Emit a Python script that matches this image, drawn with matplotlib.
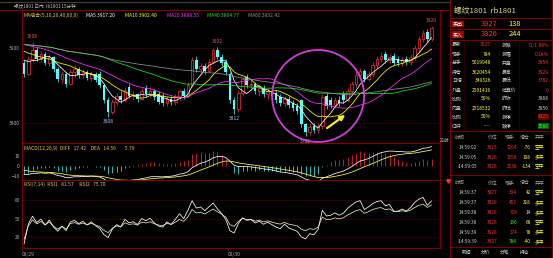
import numpy as np
import pandas as pd
import matplotlib
matplotlib.use("Agg")
import matplotlib.pyplot as plt
from matplotlib.patches import Ellipse

plt.rcParams['font.family'] = ['Noto Sans CJK SC', 'DejaVu Sans']

W, H = 553, 258

# closes before the first visible bar, only used to warm up MA / MACD / RSI
pre_close = [3912, 3915, 3918, 3914, 3910, 3916, 3920, 3917, 3912, 3908,
             3905, 3910, 3914, 3909, 3904, 3900, 3896, 3890, 3886, 3882]

# visible bars
opens = [3880, 3866, 3885, 3898, 3886, 3892, 3880, 3888, 3872, 3858,
         3866, 3852, 3868, 3872, 3864, 3868, 3860, 3865, 3866, 3850,
         3830, 3815, 3828, 3836, 3830, 3848, 3836, 3838, 3832, 3846,
         3838, 3842, 3838, 3836, 3826, 3832, 3828, 3834, 3842, 3836,
         3850, 3884, 3872, 3876, 3870, 3882, 3898, 3888, 3882, 3866,
         3830, 3818, 3840, 3862, 3850, 3852, 3842, 3846, 3838, 3842,
         3840, 3834, 3826, 3832, 3826, 3822, 3830, 3798, 3788, 3796,
         3790, 3796, 3836, 3830, 3824, 3830, 3838, 3830, 3842, 3852,
         3864, 3870, 3858, 3866, 3878, 3886, 3892, 3884, 3890, 3886,
         3880, 3886, 3882, 3888, 3900, 3912, 3922, 3912]
highs = [3884, 3890, 3908, 3902, 3896, 3895, 3892, 3890, 3875, 3870,
         3868, 3872, 3878, 3875, 3872, 3871, 3869, 3868, 3869, 3852,
         3834, 3832, 3840, 3842, 3848, 3852, 3842, 3840, 3846, 3850,
         3848, 3845, 3842, 3840, 3836, 3836, 3838, 3845, 3846, 3854,
         3888, 3890, 3880, 3880, 3886, 3900, 3902, 3892, 3885, 3868,
         3834, 3844, 3862, 3866, 3858, 3855, 3850, 3850, 3846, 3846,
         3844, 3838, 3836, 3836, 3830, 3826, 3832, 3800, 3798, 3800,
         3800, 3838, 3840, 3834, 3834, 3836, 3842, 3846, 3856, 3868,
         3874, 3872, 3870, 3882, 3890, 3895, 3896, 3892, 3894, 3890,
         3888, 3890, 3892, 3904, 3916, 3924, 3926, 3929]
lows = [3862, 3864, 3882, 3883, 3882, 3877, 3876, 3868, 3855, 3853,
        3848, 3850, 3862, 3860, 3860, 3857, 3856, 3854, 3846, 3827,
        3808, 3812, 3824, 3826, 3828, 3833, 3830, 3828, 3830, 3834,
        3835, 3830, 3825, 3822, 3822, 3824, 3824, 3830, 3832, 3834,
        3848, 3868, 3866, 3866, 3868, 3880, 3885, 3876, 3864, 3826,
        3812, 3815, 3836, 3846, 3844, 3838, 3836, 3834, 3832, 3832,
        3826, 3822, 3822, 3820, 3816, 3812, 3794, 3782, 3784, 3786,
        3786, 3792, 3818, 3820, 3820, 3822, 3826, 3828, 3838, 3848,
        3860, 3854, 3856, 3862, 3874, 3882, 3880, 3880, 3878, 3876,
        3876, 3878, 3878, 3884, 3896, 3908, 3908, 3910]
closes = [3866, 3885, 3898, 3886, 3892, 3880, 3888, 3872, 3858, 3866,
          3852, 3868, 3872, 3864, 3868, 3860, 3865, 3857, 3850, 3830,
          3815, 3828, 3836, 3830, 3844, 3836, 3838, 3832, 3842, 3838,
          3842, 3834, 3828, 3826, 3832, 3828, 3834, 3842, 3836, 3850,
          3884, 3872, 3876, 3870, 3882, 3897, 3888, 3880, 3868, 3830,
          3818, 3840, 3858, 3850, 3852, 3842, 3846, 3838, 3842, 3836,
          3830, 3826, 3832, 3824, 3820, 3816, 3798, 3788, 3794, 3790,
          3796, 3834, 3822, 3824, 3830, 3826, 3830, 3842, 3852, 3864,
          3870, 3858, 3866, 3878, 3886, 3890, 3884, 3888, 3880, 3880,
          3884, 3882, 3888, 3900, 3912, 3920, 3912, 3927]

ma_periods = [5, 10, 20, 40, 60]
ma_colors = ['#ffffff', '#ffff00', '#ff30ff', '#20e020', '#909090']

# marked extremes: (bar index, price, is_high)
extremes = [(2, 3908, True), (46, 3902, True), (97, 3929, True),
            (20, 3808, False), (50, 3812, False), (67, 3782, False)]

day_start = [0, 49]
day_labels = ['08/29', '08/30']

quote_rows = [("最新", "3927", "涨跌", "71/1.84%"),
              ("现手", "784", "涨幅", "0.18%"),
              ("总手", "5019948", "开盘", "3854"),
              ("持仓", "3620454", "最高", "3929"),
              ("日增", "349326", "最低", "3782"),
              ("外盘", "2501416", "结算价", "0"),
              ("比例", "50%", "昨收", "3868"),
              ("内盘", "2518532", "昨结", "3856"),
              ("比例", "50%", "涨停", "4125"),
              ("红杆", "----", "跌停", "3586")]
quote_val_colors = ['#ff3030'] + ['#ffff40'] * 8 + ['#d0d0d0']
quote_val2_colors = ['#ff3030'] * 6 + ['#d0d0d0', '#d0d0d0', '#ff3030', '#30ff30']

ticks_a = [("14:59:02", "3925", "1264", "-76", "空平"),
           ("14:59:05", "3926", "1558", "198", "多开"),
           ("›14:59:05", "3928", "2538", "-134", "空平")]
ticks_b = [("14:59:37", "3927", "334", "42", "空平"),
           ("14:59:37", "3928", "452", "318", "多开"),
           ("14:59:38", "3928", "718", "14", "多开"),
           ("14:59:38", "3928", "136", "68", "空开"),
           ("14:59:39", "3928", "174", "78", "多开"),
           ("›14:59:39", "3927", "784", "-40", "多平")]
ticks_b_vol_colors = ['#ff3030', '#ff3030', '#ff3030', '#30ff30', '#ff3030', '#30ff30']

# ---- indicators
full = pd.Series(pre_close + closes, dtype=float)
n0 = len(pre_close)
mas = [full.rolling(p, min_periods=1).mean().values[n0:] for p in ma_periods]

ema12 = full.ewm(span=12, adjust=False).mean()
ema26 = full.ewm(span=26, adjust=False).mean()
diff = ema12 - ema26
dea = diff.ewm(span=9, adjust=False).mean()
hist = 2 * (diff - dea)
diff, dea, hist = diff.values[n0:], dea.values[n0:], hist.values[n0:]

d = full.diff().fillna(0)
def rsi(n):
    up = d.clip(lower=0).ewm(alpha=1 / n, adjust=False).mean()
    dn = d.abs().ewm(alpha=1 / n, adjust=False).mean()
    return (100 * up / dn.replace(0, np.nan)).fillna(50).values[n0:]
rsi1, rsi2 = rsi(7), rsi(14)

x = np.arange(len(closes))

# ---- figure
BG = 'black'
FR = '#7a0000'
TXT = '#b0b0b0'
fig = plt.figure(figsize=(W / 100, H / 100), dpi=100, facecolor=BG)

def box(x0, y0, x1, y1):
    return [x0 / W, 1 - y1 / H, (x1 - x0) / W, (y1 - y0) / H]

ax = fig.add_axes(box(22, 10, 440, 143))
axm = fig.add_axes(box(22, 143, 440, 180))
axr = fig.add_axes(box(22, 180, 440, 248))
xmax = -0.5 + 418 / 4.2
for a in (ax, axm, axr):
    a.set_facecolor(BG)
    a.set_xlim(-0.5, xmax)
    for s in a.spines.values():
        s.set_color(FR)
        s.set_linewidth(0.8)
    a.tick_params(axis='y', length=0, labelsize=3.5, labelcolor=TXT, pad=1.5)
    a.tick_params(axis='x', length=0, labelbottom=False)

# candles
ax.set_ylim(3773.3, 3950.7)
for i in x:
    o, h, l, c = opens[i], highs[i], lows[i], closes[i]
    if c >= o:
        ax.vlines(i, l, o, color='#ff3232', lw=0.5)
        ax.vlines(i, c, h, color='#ff3232', lw=0.5)
        ax.bar(i, max(c - o, 0.8), bottom=o, width=0.6, facecolor=BG,
               edgecolor='#ff3232', linewidth=0.5, zorder=3)
    else:
        ax.vlines(i, l, h, color='#54ffff', lw=0.5)
        ax.bar(i, o - c, bottom=c, width=0.6, color='#54ffff', zorder=3)
for m, col in zip(mas, ma_colors):
    ax.plot(x, m, color=col, lw=0.55, zorder=4)
for lv in (3800, 3900):
    ax.axhline(lv, color=FR, lw=0.5, ls=(0, (2, 2)), zorder=0)
ax.set_yticks([3800, 3900])
for i, p, hi in extremes:
    if hi:
        ax.text(i, p + 4, str(p), color='#e06060', fontsize=3.5, ha='center', va='bottom')
    else:
        ax.text(i, p - 3, str(p), color='#a8c8f0', fontsize=3.5, ha='center', va='top')

ax.add_patch(Ellipse((70, 3836), 21.9, 122.7, fill=False, edgecolor='#d040d8',
                     lw=1.3, zorder=6, clip_on=False))
ax.annotate('', xy=(77, 3813), xytext=(71.6, 3791),
            arrowprops=dict(arrowstyle='-|>', color='#f0f030', lw=1.6,
                            mutation_scale=7), zorder=6)

# MACD
axm.set_ylim(-14, 23)
axm.vlines(x, 0, hist, colors=np.where(hist >= 0, '#ff3232', '#54ffff'), lw=0.5)
axm.plot(x, diff, color='#ffffff', lw=0.55)
axm.plot(x, dea, color='#ffff60', lw=0.55)
axm.set_yticks([-10, 0, 10])

# RSI
axr.set_ylim(2.4, 113)
for lv in (20, 50, 80):
    axr.axhline(lv, color=FR, lw=0.5, ls=(0, (2, 2)), zorder=0)
axr.plot(x, rsi1, color='#ffffff', lw=0.55)
axr.plot(x, rsi2, color='#e8e8b0', lw=0.55)
axr.set_yticks([20, 50, 80])
axr.set_xticks([s - 0.5 for s in day_start])
axr.set_xticklabels(day_labels)
axr.tick_params(axis='x', length=2, color=FR, labelbottom=True, labelsize=3.5,
                labelcolor=TXT, pad=0.8)
for t in axr.get_xticklabels():
    t.set_ha('left')

# ---- overlay in pixel units for texts and the quote panel
ov = fig.add_axes([0, 0, 1, 1], zorder=10)
ov.set_xlim(0, W)
ov.set_ylim(H, 0)
ov.axis('off')
ov.patch.set_alpha(0)

def t(xp, yp, s, col=TXT, fs=3.6, ha='left', **kw):
    ov.text(xp, yp, s, color=col, fontsize=fs, ha=ha, va='center', **kw)

ov.plot([0, 450], [10, 10], color=FR, lw=0.8)
ov.plot([0, 450], [2, 2], color='#404040', lw=0.8)
t(14, 6, "螺纹1801 日内  rb1801 15分钟", '#c0c0c0', 3.3)

t(24, 15.5, "MA组合(5,10,20,40,60,0)", '#e0c060')
t(86, 15.5, "MA5 3917.20", ma_colors[0])
t(125, 15.5, "MA10 3902.40", ma_colors[1])
t(167, 15.5, "MA20 3888.55", ma_colors[2])
t(207, 15.5, "MA40 3864.77", ma_colors[3])
t(248, 15.5, "MA60 3832.42", ma_colors[4])

t(24, 148, "MACD(12,26,9)  DIFF   17.42    DEA   14.56        5.79", '#e0c060')
t(24, 184, "RSI(7,14)  RSI1   81.57     RSI2   75.70", '#e0c060')
t(440, 141, "21时", '#c0c0c0', 3.3)

# quote panel
ov.plot([450, 450], [0, 258], color=FR, lw=0.9)
ov.plot([552, 552], [0, 258], color=FR, lw=0.9)
for yl in (18, 29, 40, 131, 175, 247):
    ov.plot([450, 552], [yl, yl], color=FR, lw=0.7)
for xl in (464, 499, 519):
    ov.plot([xl, xl], [40, 131], color='#3a0000', lw=0.5)

t(454, 10.5, "螺纹1801  rb1801", '#d8d890', 5.6)
t(453, 24, "卖出", 'white', 3.6, bbox=dict(facecolor='#a00000', edgecolor='none', pad=0.4))
t(453, 34.5, "买入", 'white', 3.6, bbox=dict(facecolor='#a00000', edgecolor='none', pad=0.4))
t(498, 24, "3927", '#ff3030', 5.4, ha='right')
t(521, 24, "138", '#ffff40', 5.4, ha='right')
t(498, 34.5, "3926", '#ff3030', 5.4, ha='right')
t(521, 34.5, "244", '#ffff40', 5.4, ha='right')

for k, (l1, v1, l2, v2) in enumerate(quote_rows):
    yy = 45 + 9 * k
    t(452, yy, l1, '#d0d0d0', 3.5)
    t(491, yy, v1, quote_val_colors[k], 3.5, ha='right')
    t(502, yy, l2, '#d0d0d0', 3.5)
    extra = {}
    if k == 8:
        extra = dict(bbox=dict(facecolor='#600000', edgecolor='none', pad=0.3))
    if k == 9:
        extra = dict(bbox=dict(facecolor='#006000', edgecolor='none', pad=0.3))
    t(549, yy, v2, quote_val2_colors[k], 3.5, ha='right', **extra)

def tick_table(y0, rows, vol_colors):
    for xp, s in zip((455, 488, 505, 520, 535), ("时间", "价位", "现手", "增仓", "开平")):
        t(xp, y0, s, '#a0a0a0', 3.5)
    for k, (tm, pr, vo, zc, kp) in enumerate(rows):
        yy = y0 + 9.8 * (k + 1)
        t(477, yy, tm, '#d0d0d0', 3.4, ha='right')
        t(498, yy, pr, '#ff3030', 3.4, ha='right')
        t(517, yy, vo, vol_colors[k], 3.4, ha='right')
        t(531, yy, zc, '#ffff40', 3.4, ha='right')
        t(535, yy, kp, '#ffff40', 3.4)

tick_table(137.5, ticks_a, ['#ff3030'] * 3)
tick_table(183, ticks_b, ticks_b_vol_colors)
ov.plot([448], [180.5], marker='v', color='#ff3030', ms=2.5)

for xp, s in zip((462, 481, 500, 520), ("明细", "分价", "分笔", "持仓")):
    t(xp, 252.5, s, '#d0d0d0', 3.4)
for xp in (476, 495, 515, 535):
    t(xp, 252.5, "/", FR, 3.6)

fig.savefig("out.png", dpi=100, facecolor=BG)
